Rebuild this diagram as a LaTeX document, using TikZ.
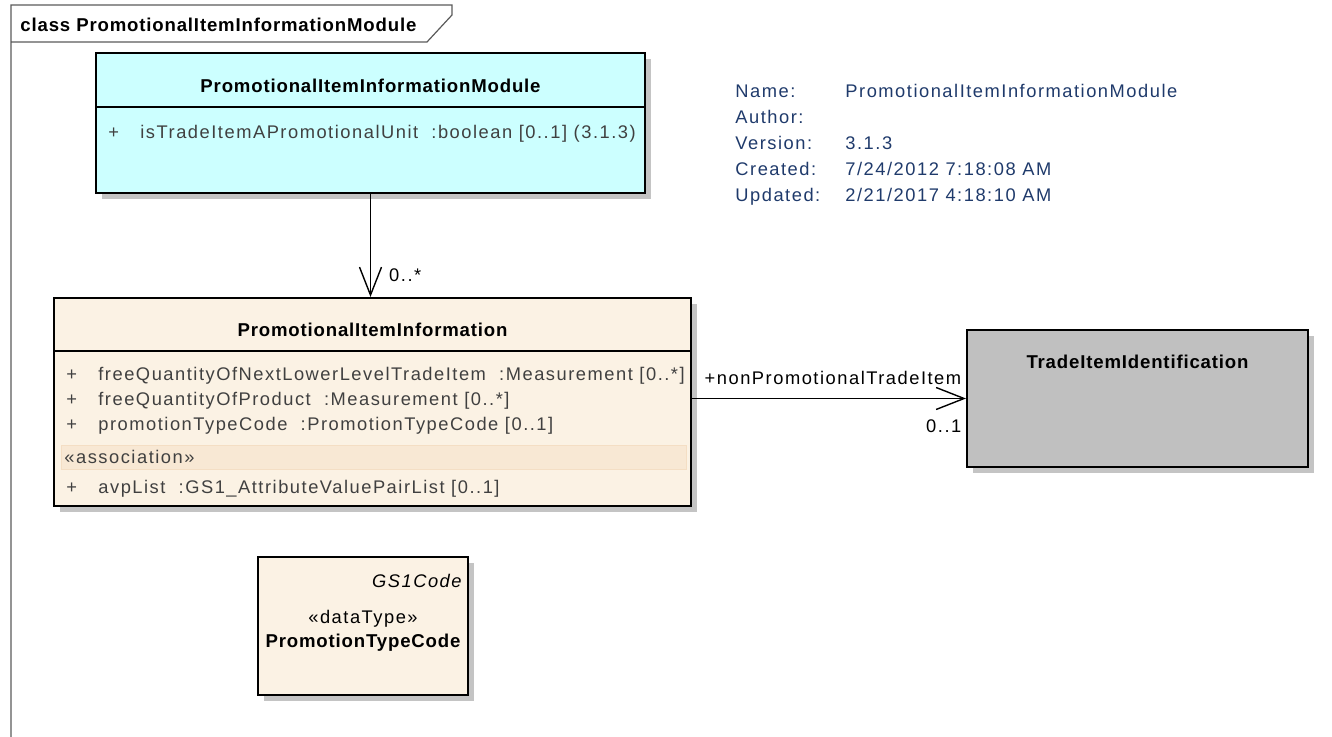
\documentclass[tikz,border=0pt]{standalone}
\usepackage{fontspec}
\setmainfont{Liberation Sans}[LetterSpace=8.3, BoldFeatures={LetterSpace=4.5}]
\usetikzlibrary{arrows.meta,shadows}

\begin{document}
\begin{tikzpicture}[x=0.5pt, y=-0.5pt, >={Straight Barb[length=14pt,width=11pt]},
    every node/.style={inner sep=0pt, font=\fontsize{9.15}{11}\selectfont},
    box/.style={draw, line width=1pt, drop shadow={shadow xshift=3pt, shadow yshift=-3pt, fill=shadowgray, opacity=1}},
    boxtitle/.style={anchor=base, font=\fontsize{9.3}{11}\selectfont\bfseries},
    attr/.style={anchor=base west, text=attrgray},
    meta/.style={anchor=base west, text=infoblue},
    assoc/.style={->, line width=0.7pt}]
        % Colours
        \definecolor{modulecyan}{RGB}{204, 255, 255}
        \definecolor{classfill}{RGB}{251, 242, 228}
        \definecolor{bandfill}{RGB}{248, 232, 212}
        \definecolor{bandline}{RGB}{244, 222, 196}
        \definecolor{tiigray}{RGB}{192, 192, 192}
        \definecolor{shadowgray}{RGB}{196, 196, 196}
        \definecolor{infoblue}{RGB}{31, 58, 107}
        \definecolor{attrgray}{RGB}{64, 64, 64}
        \definecolor{framegray}{RGB}{90, 90, 90}

        \useasboundingbox (0,0) rectangle (1332,737);

        % Frame
        \draw[framegray, line width=0.6pt] (11,737) -- (11,5) -- (452,5) -- (452,15) -- (427,42) -- (11,42);
        \node[boxtitle, anchor=base west] (frametitle) at (20,32) {class PromotionalItemInformationModule};

        % Classes
        \node[box, fill=modulecyan, minimum width=274.5pt, minimum height=70pt] (module) at (370.5,123) {};
        \node[box, fill=classfill, minimum width=318.5pt, minimum height=104pt] (info) at (372.5,402) {};
        \node[box, fill=tiigray, minimum width=170.5pt, minimum height=68.5pt] (tii) at (1137.5,398.5) {};
        \node[box, fill=classfill, minimum width=105pt, minimum height=69pt] (ptc) at (363,626) {};

        \draw[line width=0.9pt] ([yshift=-27.5pt]module.north west) -- ([yshift=-27.5pt]module.north east);
        \draw[line width=0.9pt] ([yshift=-27pt]info.north west) -- ([yshift=-27pt]info.north east);
        \draw[fill=bandfill, draw=bandline, line width=0.5pt] (61,445) rectangle (686,469);

        % Texts
        \node[boxtitle] (moduletitle) at (370.5,93) {PromotionalItemInformationModule};
        \node[attr] (moduleattr) at (108,139) {\makebox[16pt][l]{+}isTradeItemAPromotionalUnit~ :boolean [0..1] (3.1.3)};

        \node[boxtitle] (infotitle) at (372.5,337) {PromotionalItemInformation};
        \node[attr] (infoattra) at (66,380) {\makebox[16pt][l]{+}freeQuantityOfNextLowerLevelTradeItem~ :Measurement [0..*]};
        \node[attr] (infoattrb) at (66,405) {\makebox[16pt][l]{+}freeQuantityOfProduct~ :Measurement [0..*]};
        \node[attr] (infoattrc) at (66,430) {\makebox[16pt][l]{+}promotionTypeCode~ :PromotionTypeCode [0..1]};
        \node[attr] (infoassoc) at (64,463) {«association»};
        \node[attr] (infoattrd) at (66,493) {\makebox[16pt][l]{+}avpList~ :GS1\_AttributeValuePairList [0..1]};

        \node[boxtitle] (tiititle) at (1137.5,369) {TradeItemIdentification};

        \node[anchor=base east, font=\fontsize{9.15}{11}\selectfont\itshape] (ptcparent) at (462,587) {GS1Code};
        \node[anchor=base] (ptcstereo) at (363,623) {«dataType»};
        \node[boxtitle] (ptctitle) at (363,647) {PromotionTypeCode};

        % Diagram details
        \node[meta] (namekey) at (735,98) {Name:};
        \node[meta] (nameval) at (845,98) {PromotionalItemInformationModule};
        \node[meta] (authorkey) at (735,124) {Author:};
        \node[meta] (versionkey) at (735,150) {Version:};
        \node[meta] (versionval) at (845,150) {3.1.3};
        \node[meta] (createdkey) at (735,176) {Created:};
        \node[meta] (createdval) at (845,176) {7/24/2012 7:18:08 AM};
        \node[meta] (updatedkey) at (735,202) {Updated:};
        \node[meta] (updatedval) at (845,202) {2/21/2017 4:18:10 AM};

        % Associations
        \draw[assoc] (module.south) -- (module.south |- info.north)
            node[pos=1, anchor=base west, xshift=9pt, yshift=7.5pt] (multinfo) {0..*};
        \draw[assoc] (info.east |- tii.west) -- (tii.west)
            node[pos=0, anchor=base west, xshift=6pt, yshift=7pt] (roletii) {+nonPromotionalTradeItem}
            node[pos=1, anchor=base east, xshift=-2pt, yshift=-17pt] (multtii) {0..1};

    \end{tikzpicture}
\end{document}
